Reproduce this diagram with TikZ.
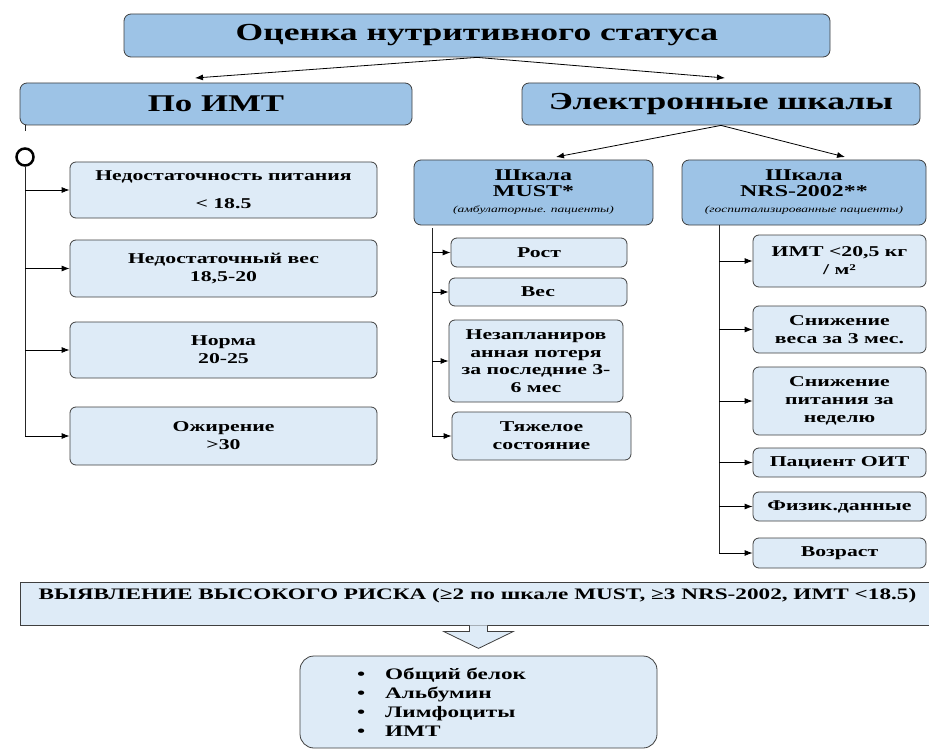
\documentclass[tikz,border=0pt]{standalone}
\usepackage{fontspec}
\setmainfont{Liberation Serif}[FakeStretch=1.45]
\usetikzlibrary{arrows.meta}

\definecolor{headblue}{HTML}{9DC3E6}
\definecolor{itemblue}{HTML}{DEEBF7}
\definecolor{boxline}{HTML}{3F3F3F}
\newcommand{\itemfont}{\bfseries\fontsize{15}{18}\selectfont}
\newcommand{\scalefont}{\bfseries\fontsize{16.5}{16}\selectfont}
\newcommand{\notefont}{\mdseries\itshape\fontsize{9.3}{10}\selectfont}

\begin{document}
\begin{tikzpicture}[x=1pt, y=-1pt,
	headbox/.style={draw=boxline, fill=headblue, line width=0.8pt, rounded corners=7pt, inner sep=0pt, align=center},
	itembox/.style={draw=boxline, fill=itemblue, line width=0.8pt, rounded corners=6pt, inner sep=0pt, align=center, font=\itemfont},
	link/.style={arrows={-{Latex[length=8pt, width=6pt]}}, line width=0.8pt},
	spine/.style={draw=black!85, line width=1pt}]
	\useasboundingbox (0,0) rectangle (929,749);

	\coordinate (bmi-in) at (195, 78);
	\coordinate (scales-in) at (725, 78);
	\coordinate (must-in) at (556, 157);
	\coordinate (nrs-in) at (845, 157);
	\coordinate (bmi-end) at (25, 436);
	\coordinate (must-top) at (432, 228);
	\coordinate (must-end) at (432, 436);
	\coordinate (nrs-top) at (719, 225);
	\coordinate (nrs-end) at (719, 553);

	\node [headbox, minimum width=706pt, minimum height=43pt, font=\bfseries\fontsize{24.5}{28}\selectfont] (title) at (477, 35.5) {Оценка нутритивного статуса};
	\node [headbox, minimum width=392pt, minimum height=42pt, font=\bfseries\fontsize{24}{28}\selectfont] (bmi) at (216, 104) {По ИМТ};
	\node [headbox, minimum width=398pt, minimum height=42pt, font=\bfseries\fontsize{24.5}{28}\selectfont] (scales) at (721, 104) {Электронные шкалы};

	\draw [link] (title.south) -- (bmi-in);
	\draw [link] (title.south) -- (scales-in);

%	left column: BMI ranges
	\node [circle, draw, line width=2.5pt, minimum size=17pt, inner sep=0pt] (bmi-root) at (25, 157) {};
	\node [itembox, minimum width=307pt, minimum height=56pt] (n1) at (223.5, 190) {Недостаточность питания\\[10pt]< 18.5};
	\node [itembox, minimum width=307pt, minimum height=57pt] (n2) at (223.5, 268.5) {Недостаточный вес\\18,5-20};
	\node [itembox, minimum width=307pt, minimum height=56pt] (n3) at (223.5, 350) {Норма\\20-25};
	\node [itembox, minimum width=307pt, minimum height=58pt] (n4) at (223.5, 436) {Ожирение\\>30};

	\draw [spine] (bmi-root |- bmi.south) -- ++(0, 6);
	\draw [spine] (bmi-root.south) -- (bmi-end);
	\draw [link] (bmi-root |- n1.west) -- (n1.west);
	\draw [link] (bmi-root |- n2.west) -- (n2.west);
	\draw [link] (bmi-root |- n3.west) -- (n3.west);
	\draw [link] (bmi-end) -- (n4.west);

%	MUST
	\node [headbox, minimum width=239pt, minimum height=65pt, font=\scalefont] (must) at (533.5, 192.5) {Шкала\\MUST*\\{\notefont (амбулаторные. пациенты)}};
	\draw [link] (scales.south) -- (must-in);

	\node [itembox, minimum width=176pt, minimum height=29pt] (m1) at (539, 252.5) {Рост};
	\node [itembox, minimum width=178pt, minimum height=28pt] (m2) at (538, 292) {Вес};
	\node [itembox, minimum width=174pt, minimum height=82pt, font=\bfseries\fontsize{15}{17.5}\selectfont] (m3) at (536, 361) {Незапланиров\\анная потеря\\за последние 3-\\6 мес};
	\node [itembox, minimum width=179pt, minimum height=48pt] (m4) at (541.5, 436) {Тяжелое\\состояние};

	\draw [spine] (must-top) -- (must-end);
	\draw [link] (must-top |- m1.west) -- (m1.west);
	\draw [link] (must-top |- m2.west) -- (m2.west);
	\draw [link] (must-top |- m3.west) -- (m3.west);
	\draw [link] (must-end) -- (m4.west);

%	NRS-2002
	\node [headbox, minimum width=244pt, minimum height=65pt, font=\scalefont] (nrs) at (804, 192.5) {Шкала\\NRS-2002**\\{\notefont (госпитализированные пациенты)}};
	\draw [link] (scales.south) -- (nrs-in);

	\node [itembox, minimum width=173pt, minimum height=52pt] (r1) at (839.5, 261) {ИМТ <20,5 кг\\/ м²};
	\node [itembox, minimum width=173pt, minimum height=47pt] (r2) at (839.5, 329.5) {Снижение\\веса за 3 мес.};
	\node [itembox, minimum width=173pt, minimum height=68pt] (r3) at (839.5, 401) {Снижение\\питания за\\неделю};
	\node [itembox, minimum width=173pt, minimum height=29pt] (r4) at (839.5, 462.5) {Пациент ОИТ};
	\node [itembox, minimum width=173pt, minimum height=29pt] (r5) at (839.5, 506.5) {Физик.данные};
	\node [itembox, minimum width=173pt, minimum height=30pt] (r6) at (839.5, 553) {Возраст};

	\draw [spine] (nrs-top) -- (nrs-end);
	\draw [link] (nrs-top |- r1.west) -- (r1.west);
	\draw [link] (nrs-top |- r2.west) -- (r2.west);
	\draw [link] (nrs-top |- r3.west) -- (r3.west);
	\draw [link] (nrs-top |- r4.west) -- (r4.west);
	\draw [link] (nrs-top |- r5.west) -- (r5.west);
	\draw [link] (nrs-end) -- (r6.west);

%	risk and lab tests
	\node [draw=boxline, fill=itemblue, line width=0.8pt, minimum width=915pt, minimum height=43pt, inner sep=0pt, align=center, font=\bfseries\fontsize{16}{20}\selectfont] (risk) at (477.5, 603.5) {ВЫЯВЛЕНИЕ ВЫСОКОГО РИСКА (≥2 по шкале MUST, ≥3 NRS-2002, ИМТ <18.5)\\[-6pt]\strut};
	\node [itembox, rounded corners=14pt, minimum width=357pt, minimum height=92pt, align=left, text width=243pt, inner xsep=57pt, font=\bfseries\fontsize{16}{19}\selectfont] (labs) at (478.5, 702) {\textbullet\hspace{20pt}Общий белок\\\textbullet\hspace{20pt}Альбумин\\\textbullet\hspace{20pt}Лимфоциты\\\textbullet\hspace{20pt}ИМТ};

	\draw [draw=boxline, fill=itemblue, line width=0.8pt] (risk.south) ++(-8, 0) -- ++(0, 6) -- ++(-26, 0) -- ++(35, 17) -- ++(35, -17) -- ++(-26, 0) -- ++(0, -6);
\end{tikzpicture}
\end{document}
